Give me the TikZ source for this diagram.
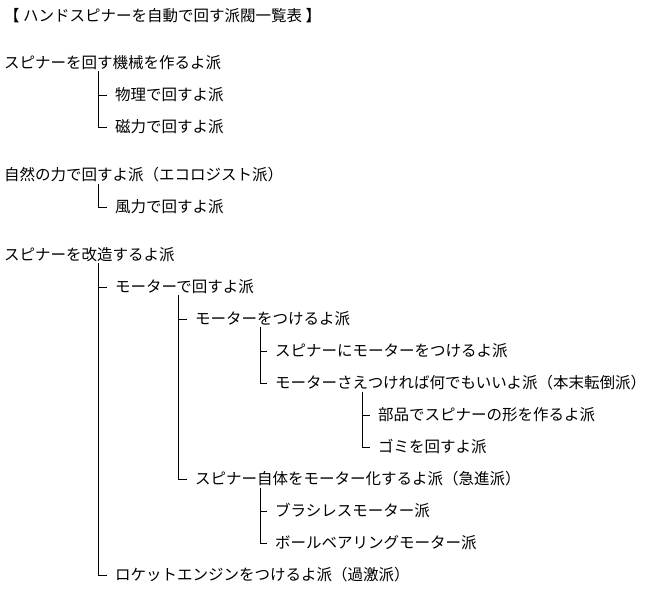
\documentclass[tikz,border=0pt]{standalone}
\usepackage{fontspec}
\setmainfont{Noto Sans CJK JP}
\begin{document}
\begin{tikzpicture}[x=1pt,y=-1pt,
  t/.style={anchor=west,inner sep=0pt,font=\fontsize{15.5}{16}\selectfont},
  br/.style={draw=black,line width=1pt}]
\useasboundingbox (0,0) rectangle (654,590);
\node[t] (title) at (4,16) {【 ハンドスピナーを自動で回す派閥一覧表 】};
\node[t] (a) at (4,63) {スピナーを回す機械を作るよ派};
\node[t] (a1) at (115,95) {物理で回すよ派};
\node[t] (a2) at (115,127) {磁力で回すよ派};
\node[t] (b) at (4,175) {自然の力で回すよ派（エコロジスト派）};
\node[t] (b1) at (115,207) {風力で回すよ派};
\node[t] (c) at (4,255) {スピナーを改造するよ派};
\node[t] (c1) at (115,287) {モーターで回すよ派};
\node[t] (c11) at (195,319) {モーターをつけるよ派};
\node[t] (c111) at (275,351) {スピナーにモーターをつけるよ派};
\node[t] (c112) at (275,383) {モーターさえつければ何でもいいよ派（本末転倒派）};
\node[t] (c1121) at (378,415) {部品でスピナーの形を作るよ派};
\node[t] (c1122) at (378,447) {ゴミを回すよ派};
\node[t] (c12) at (195,479) {スピナー自体をモーター化するよ派（急進派）};
\node[t] (c121) at (275,511) {ブラシレスモーター派};
\node[t] (c122) at (275,543) {ボールベアリングモーター派};
\node[t] (c2) at (115,575) {ロケットエンジンをつけるよ派（過激派）};
\foreach \p/\c/\x in {a/a1/98,a/a2/98,b/b1/98,c/c1/98,c/c2/98,c1/c11/178,c1/c12/178,
  c11/c111/260,c11/c112/260,c112/c1121/362,c112/c1122/362,c12/c121/260,c12/c122/260}
  \draw[br] (\x,0 |- \p.south) ++(0,1) |- ([xshift=-8pt]\c.west);
\end{tikzpicture}
\end{document}
